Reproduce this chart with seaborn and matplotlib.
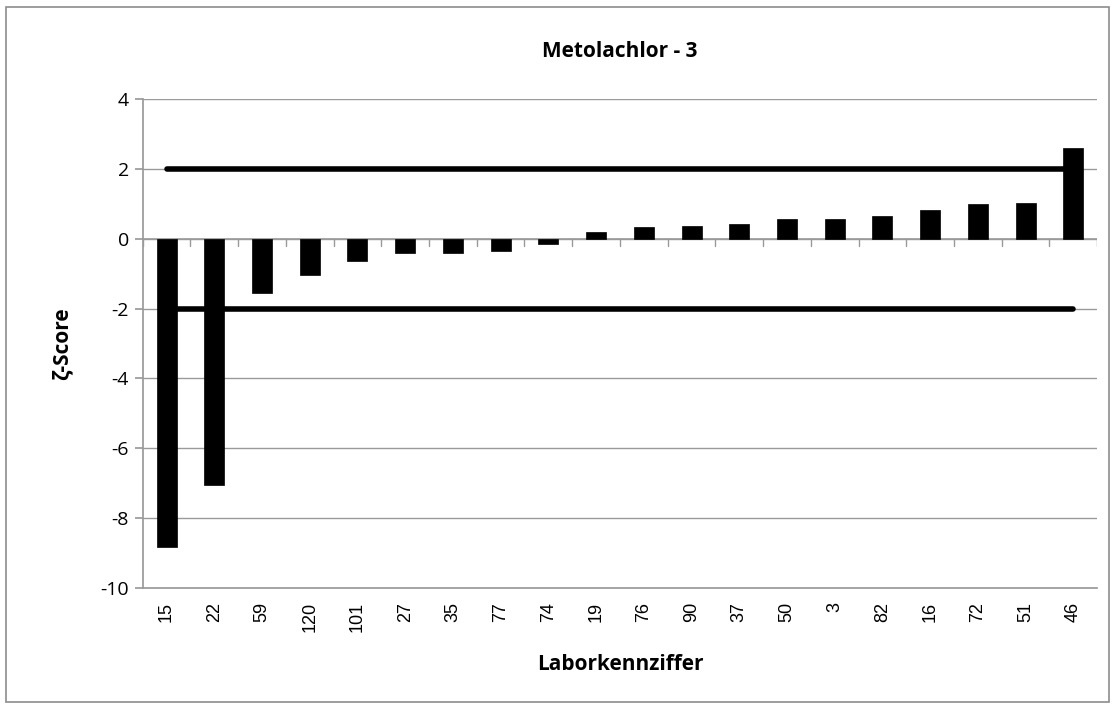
import matplotlib
matplotlib.use("Agg")
import matplotlib.pyplot as plt
from matplotlib.patches import Rectangle
import pandas as pd
import seaborn as sns

# --- data ---
labs = ["15", "22", "59", "120", "101", "27", "35", "77", "74", "19",
        "76", "90", "37", "50", "3", "82", "16", "72", "51", "46"]
scores = [-8.82, -7.06, -1.57, -1.05, -0.65, -0.42, -0.41, -0.35, -0.16, 0.19,
          0.33, 0.35, 0.41, 0.55, 0.57, 0.66, 0.82, 0.99, 1.02, 2.58]
limits = [2, -2]
title = "Metolachlor - 3"

sns.set_theme(style="white")
plt.rcParams["font.family"] = ["Open Sans", "DejaVu Sans"]
plt.rcParams["axes.unicode_minus"] = False
plt.rcParams["text.color"] = "black"
plt.rcParams["axes.labelcolor"] = "black"
plt.rcParams["xtick.color"] = "black"
plt.rcParams["ytick.color"] = "black"

df = pd.DataFrame({"lab": labs, "score": scores})

fig = plt.figure(figsize=(11.15, 7.06), dpi=100)
ax = fig.add_axes([0.128, 0.167, 0.856, 0.693])

sns.barplot(data=df, x="lab", y="score", order=labs, color="black",
            width=0.42, saturation=1, edgecolor="black", linewidth=0.5,
            ax=ax, zorder=3)

# limit lines from first to last category (behind bars)
first, last = 0, len(labs) - 1
for lim in limits:
    ax.plot([first, last], [lim, lim], color="black", lw=4,
            solid_capstyle="round", zorder=2)

ax.set_ylim(-10, 4)
ax.set_xlim(-0.5, len(labs) - 0.5)
ax.set_yticks(range(-10, 5, 2))
ax.grid(axis="y", color="#9a9a9a", lw=1)
ax.set_axisbelow(True)
for s in ["top", "right"]:
    ax.spines[s].set_visible(False)
ax.spines["left"].set_color("#9a9a9a")
ax.spines["bottom"].set_color("#9a9a9a")
ax.axhline(0, color="#9a9a9a", lw=1.2, zorder=1)

# excel-like ticks between categories on the zero line
for i in range(len(labs) + 1):
    ax.plot([i - 0.5, i - 0.5], [0, -0.2], color="#9a9a9a", lw=1, zorder=1)

ax.tick_params(axis="y", left=True, length=6, color="#9a9a9a", labelcolor="black",
               labelsize=14, pad=4)
ax.tick_params(axis="x", bottom=False, labelsize=13, rotation=90, pad=4,
               labelcolor="black")
for t in ax.get_xticklabels():
    t.set_family(["Liberation Sans", "DejaVu Sans"])

ax.set_title(title, fontsize=15, fontweight="bold", pad=30)
ax.set_xlabel("Laborkennziffer", fontsize=15, fontweight="bold", labelpad=16)
ax.set_ylabel("ζ-Score", fontsize=15, fontweight="bold", labelpad=20)

fig.patches.append(Rectangle((0.005, 0.005), 0.99, 0.985, transform=fig.transFigure,
                             fill=False, edgecolor="#8c8c8c", lw=1.2))

fig.savefig("out.png", dpi=100, facecolor="white")
